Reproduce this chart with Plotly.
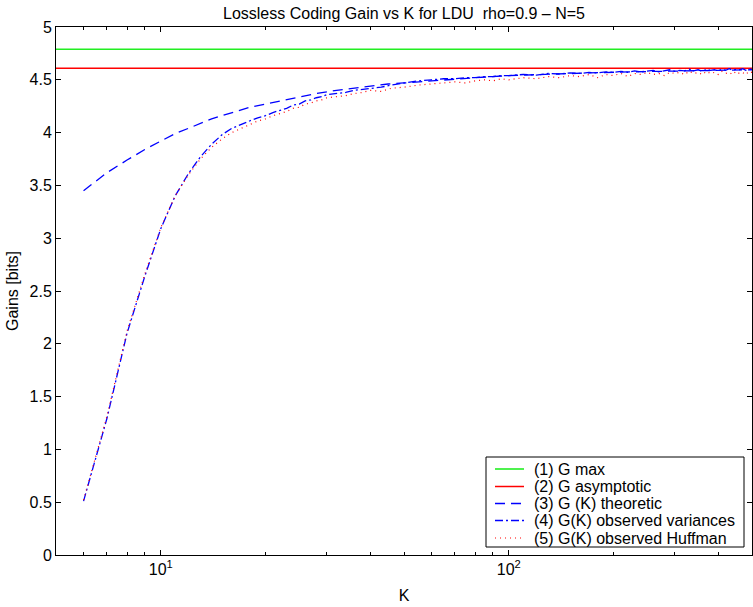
import plotly.graph_objects as go

# ---------------- data ----------------
K_RANGE = [5, 500]
G_MAX = 4.79
G_ASYM = 4.61

K_theo = [6, 7, 8, 9, 10, 11, 12, 13, 14, 15, 16, 18, 20, 22, 25, 28, 32, 36, 40,
          45, 50, 60, 70, 80, 100, 130, 170, 220, 300, 400, 500]
G_theo = [3.45, 3.62, 3.74, 3.84, 3.92, 3.99, 4.04, 4.09, 4.13, 4.16, 4.19, 4.24,
          4.27, 4.30, 4.34, 4.37, 4.40, 4.42, 4.44, 4.46, 4.47, 4.49, 4.51, 4.52,
          4.54, 4.555, 4.565, 4.575, 4.585, 4.59, 4.595]

K_obs = [6, 7, 8, 9, 10, 11, 12, 13, 14, 15, 16, 17, 18, 19, 20, 21, 22, 23, 24,
         25, 26, 27, 28, 29, 30, 32, 34, 36, 38, 40, 43, 46, 50, 55, 60, 65, 70,
         75, 80, 85, 90, 95, 100, 110, 120, 130, 140, 150, 160, 170, 180, 190,
         200, 210, 220, 230, 240, 250, 260, 270, 280, 290, 300, 310, 320, 330,
         340, 350, 360, 370, 380, 390, 400, 410, 420, 430, 440, 450, 460, 470,
         480, 490, 500]
G_var = [0.51, 1.29, 2.10, 2.64, 3.09, 3.40, 3.61, 3.77, 3.89, 3.98, 4.04, 4.08,
         4.11, 4.14, 4.16, 4.19, 4.21, 4.23, 4.26, 4.27, 4.30, 4.31, 4.33, 4.34,
         4.36, 4.37, 4.38, 4.40, 4.41, 4.42, 4.43, 4.45, 4.47, 4.49, 4.50, 4.51,
         4.51, 4.52, 4.52, 4.53, 4.53, 4.54, 4.54, 4.55, 4.545, 4.56, 4.555,
         4.565, 4.56, 4.57, 4.565, 4.575, 4.57, 4.58, 4.57, 4.585, 4.575, 4.58,
         4.59, 4.575, 4.585, 4.595, 4.58, 4.59, 4.585, 4.60, 4.585, 4.595, 4.58,
         4.60, 4.59, 4.595, 4.585, 4.60, 4.59, 4.605, 4.59, 4.60, 4.595, 4.605,
         4.59, 4.60, 4.605]
G_huff = [0.52, 1.31, 2.12, 2.66, 3.10, 3.40, 3.60, 3.75, 3.86, 3.94, 4.00, 4.04,
          4.08, 4.11, 4.13, 4.16, 4.18, 4.20, 4.23, 4.24, 4.27, 4.28, 4.30, 4.31,
          4.33, 4.34, 4.35, 4.37, 4.38, 4.40, 4.39, 4.42, 4.43, 4.45, 4.46, 4.47,
          4.48, 4.47, 4.49, 4.50, 4.49, 4.51, 4.50, 4.52, 4.51, 4.53, 4.52, 4.54,
          4.53, 4.55, 4.52, 4.55, 4.54, 4.56, 4.53, 4.56, 4.55, 4.57, 4.55, 4.56,
          4.54, 4.57, 4.56, 4.57, 4.55, 4.58, 4.56, 4.57, 4.55, 4.58, 4.56, 4.57,
          4.55, 4.58, 4.56, 4.57, 4.55, 4.58, 4.56, 4.57, 4.55, 4.58, 4.57]

Y_TICKS = [0, 0.5, 1, 1.5, 2, 2.5, 3, 3.5, 4, 4.5, 5]
Y_TICKTEXT = ["0", "0.5", "1", "1.5", "2", "2.5", "3", "3.5", "4", "4.5", "5"]
X_TICKS = [10, 100]
X_TICKTEXT = ["10<sup>1</sup>", "10<sup>2</sup>"]
X_MINOR = [6, 7, 8, 9, 20, 30, 40, 50, 60, 70, 80, 90, 200, 300, 400]

LEGEND_LABELS = ["(1) G max", "(2) G asymptotic", "(3) G (K) theoretic",
                 "(4) G(K) observed variances", "(5) G(K) observed Huffman"]
TITLE = "Lossless Coding Gain vs K for LDU  rho=0.9 \u2013 N=5"

FONT = "Liberation Sans, Arial, Helvetica, sans-serif"
GREEN = "#22ee22"
RED = "#ff0000"
BLUE = "#0000ff"

styles = [
    dict(color=GREEN, width=1.6, dash="solid"),
    dict(color=RED, width=1.5, dash="solid"),
    dict(color=BLUE, width=1.3, dash="10px,6px"),
    dict(color=BLUE, width=1.3, dash="8px,3px,2px,3px"),
    dict(color=RED, width=1.2, dash="1px,4px"),
]

fig = go.Figure()
fig.add_trace(go.Scatter(x=K_RANGE, y=[G_MAX, G_MAX], mode="lines",
                         line=styles[0], name=LEGEND_LABELS[0], showlegend=False))
fig.add_trace(go.Scatter(x=K_RANGE, y=[G_ASYM, G_ASYM], mode="lines",
                         line=styles[1], name=LEGEND_LABELS[1], showlegend=False))
fig.add_trace(go.Scatter(x=K_theo, y=G_theo, mode="lines",
                         line=styles[2], name=LEGEND_LABELS[2], showlegend=False))
fig.add_trace(go.Scatter(x=K_obs, y=G_var, mode="lines",
                         line=styles[3], name=LEGEND_LABELS[3], showlegend=False))
fig.add_trace(go.Scatter(x=K_obs, y=G_huff, mode="lines",
                         line=styles[4], name=LEGEND_LABELS[4], showlegend=False))

W, H = 753, 607
ML, MR, MT, MB = 56, 1, 27, 52
PW, PH = W - ML - MR, H - MT - MB


def px2paper(x, y):
    return (x - ML) / PW, (H - MB - y) / PH


# custom MATLAB-like legend box
shapes = []
annotations = []
bx0, by0 = px2paper(486, 547)
bx1, by1 = px2paper(744, 457)
shapes.append(dict(type="rect", xref="paper", yref="paper", x0=bx0, y0=by0,
                   x1=bx1, y1=by1, fillcolor="white",
                   line=dict(color="black", width=1), layer="above"))
row_y = [469, 486.5, 503.5, 520.5, 538]
for i, lab in enumerate(LEGEND_LABELS):
    lx0, ly = px2paper(495, row_y[i])
    lx1, _ = px2paper(524, row_y[i])
    st = styles[i]
    shapes.append(dict(type="line", xref="paper", yref="paper", x0=lx0, x1=lx1,
                       y0=ly, y1=ly, layer="above",
                       line=dict(color=st["color"], width=st["width"], dash=st["dash"])))
    tx, _ = px2paper(532, row_y[i])
    annotations.append(dict(xref="paper", yref="paper", x=tx, y=ly, text=lab,
                            showarrow=False, xanchor="left", yanchor="middle",
                            font=dict(family=FONT, size=16, color="black")))

fig.update_layout(
    width=W, height=H,
    margin=dict(l=ML, r=MR, t=MT, b=MB, pad=0),
    paper_bgcolor="white", plot_bgcolor="white",
    title=dict(text=TITLE, x=(ML + PW / 2) / W, xanchor="center",
               y=1 - 13 / H, yanchor="middle",
               font=dict(family=FONT, size=16, color="black")),
    font=dict(family=FONT, size=16, color="black"),
    shapes=shapes,
    annotations=annotations,
    showlegend=False,
)
fig.update_xaxes(
    type="log", range=[0.69897, 2.69897],
    tickvals=X_TICKS, ticktext=X_TICKTEXT,
    ticks="inside", ticklen=5, tickcolor="black", tickwidth=1,
    minor=dict(tickvals=X_MINOR, ticks="inside", ticklen=3, tickcolor="black",
               showgrid=False),
    showline=True, linecolor="black", linewidth=1, mirror="allticks",
    showgrid=False, zeroline=False,
    title=dict(text="K", standoff=12, font=dict(family=FONT, size=16)),
    tickfont=dict(family=FONT, size=16),
)
fig.update_yaxes(
    range=[0, 5], tickvals=Y_TICKS, ticktext=Y_TICKTEXT,
    ticks="inside", ticklen=5, tickcolor="black", tickwidth=1,
    showline=True, linecolor="black", linewidth=1, mirror="allticks",
    showgrid=False, zeroline=False,
    title=dict(text="Gains [bits]", standoff=6, font=dict(family=FONT, size=16)),
    tickfont=dict(family=FONT, size=16),
)

fig.write_html("out.html")
